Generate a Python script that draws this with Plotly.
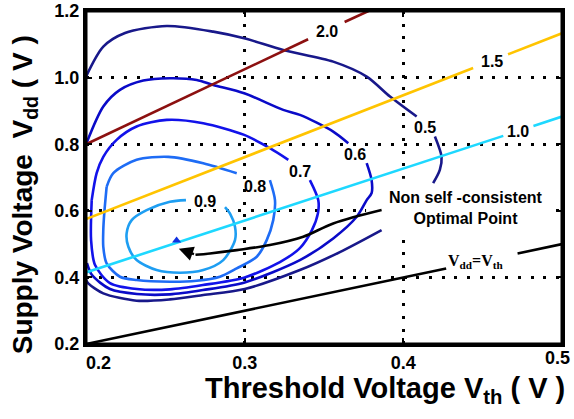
import plotly.graph_objects as go

# ---------------- data ----------------
# iso-contours of normalized metric (None = gap for inline label / hidden part)
c05_x = [0.200, 0.2109, 0.2246, 0.2509, 0.2802, 0.2997, 0.3243, 0.3558, 0.3769, 0.3916, 0.4084, None,
         0.4199, 0.4241, 0.4230, 0.4188, None,
         0.3863, 0.3600, 0.3348, 0.3000, 0.2739, 0.2529, 0.2319, 0.2109, 0.2014, 0.2000]
c05_y = [1.003, 1.093, 1.134, 1.155, 1.138, 1.118, 1.083, 1.048, 1.003, 0.943, 0.883, None,
         0.823, 0.762, 0.723, 0.683, None,
         0.542, 0.476, 0.422, 0.365, 0.347, 0.334, 0.330, 0.352, 0.382, 0.392]

c06_x = [0.2004, 0.2109, 0.2214, 0.2361, 0.2529, 0.2698, 0.2802, 0.2997, 0.3243, 0.3348, 0.3558, 0.3653, None,
         0.3769, 0.3800, 0.3800, 0.3769, 0.3706, 0.3558, 0.3348, 0.3000, 0.2737, 0.2529, 0.2321, 0.2151, 0.2038, 0.2006]
c06_y = [0.804, 0.913, 0.963, 0.991, 0.998, 0.993, 0.978, 0.953, 0.903, 0.888, 0.838, 0.803, None,
         0.743, 0.692, 0.653, 0.632, 0.582, 0.517, 0.452, 0.385, 0.362, 0.349, 0.350, 0.365, 0.407, 0.443]

c07_x = [0.2036, 0.2067, 0.2109, 0.2193, 0.2319, 0.2509, 0.2739, 0.2997, 0.3159, 0.3275, None,
         0.3411, 0.3464, 0.3462, 0.3424, 0.3348, 0.3222, 0.3000, 0.2737, 0.2529, 0.2321, 0.2151, 0.2057, 0.2032, 0.2036]
c07_y = [0.632, 0.713, 0.762, 0.813, 0.853, 0.873, 0.863, 0.828, 0.788, 0.753, None,
         0.692, 0.632, 0.593, 0.542, 0.488, 0.446, 0.400, 0.377, 0.364, 0.365, 0.383, 0.437, 0.512, 0.632]

c08_x = [0.2130, 0.2172, 0.2319, 0.2519, 0.2739, 0.2950, None,
         0.3159, 0.3191, 0.3180, 0.3139, 0.3076, 0.2950, 0.2844, 0.2698, 0.2529, 0.2319, 0.2214, 0.2130, 0.2109,
         0.2109, 0.2115, 0.2130]
c08_y = [0.672, 0.713, 0.753, 0.762, 0.743, 0.713, None,
         0.692, 0.632, 0.572, 0.512, 0.462, 0.427, 0.402, 0.390, 0.387, 0.392, 0.402, 0.442, 0.492,
         0.542, 0.592, 0.672]

c09_x = [0.2876, 0.2907, 0.2939, 0.2939, 0.2865, 0.2739, 0.2592, 0.2445, 0.2319, 0.2267, 0.2256, 0.2288,
         0.2382, 0.2529, 0.2630]
c09_y = [0.611, 0.592, 0.552, 0.512, 0.452, 0.422, 0.414, 0.422, 0.452, 0.492, 0.532, 0.572,
         0.602, 0.627, 0.632]

contour_levels = ["0.5", "0.6", "0.7", "0.8", "0.9"]
contour_label_x = [0.4136, 0.3695, 0.3348, 0.3065, 0.2750]
contour_label_y = [0.849, 0.768, 0.717, 0.672, 0.627]

# straight iso-lines (ratio lines) and Vdd = Vth
l20_x = [0.200, 0.340, None, 0.363, 0.378]
l20_y = [0.800, 1.115, None, 1.167, 1.200]
l15_x = [0.200, 0.444, None, 0.466, 0.500]
l15_y = [0.575, 1.029, None, 1.070, 1.133]
l10_x = [0.200, 0.463, None, 0.482, 0.500]
l10_y = [0.415, 0.825, None, 0.855, 0.883]
vdd_x = [0.200, 0.427, None, 0.472, 0.500]
vdd_y = [0.200, 0.427, None, 0.472, 0.500]

line_labels = ["2.0", "1.5", "1.0"]
line_label_x = [0.3516, 0.4556, 0.4724]
line_label_y = [1.138, 1.048, 0.838]

# non self-consistent optimal point and the arrow pointing to it
opt_x = [0.2571]
opt_y = [0.511]
arrow_x = [0.3863, 0.3558, 0.3369, 0.3159, 0.2950, 0.2781, 0.2690]
arrow_y = [0.6024, 0.562, 0.522, 0.497, 0.482, 0.472, 0.468]
arrow_tip = (0.2585, 0.486)

x_ticks = [0.2, 0.3, 0.4]
x_ticktext = ["&nbsp;&nbsp;&nbsp;&nbsp;&nbsp;0.2", "0.3", "0.4"]
x_last_tick = 0.5
y_ticks = [0.2, 0.4, 0.6, 0.8, 1.0, 1.2]
y_ticktext = ["0.2", "0.4", "0.6", "0.8", "1.0", "1.2"]

# ---------------- figure ----------------
fig = go.Figure()

colors = {"0.5": "#18188A", "0.6": "#0A0AC8", "0.7": "#1212EA", "0.8": "#1E6CF5", "0.9": "#1E9EF2"}
for lvl, xs, ys in zip(contour_levels, [c05_x, c06_x, c07_x, c08_x, c09_x], [c05_y, c06_y, c07_y, c08_y, c09_y]):
    fig.add_trace(go.Scatter(x=xs, y=ys, mode="lines",
                             line=dict(color=colors[lvl], width=2.6, shape="spline", smoothing=0.8),
                             connectgaps=False, hoverinfo="skip"))

for xs, ys, col in [(l20_x, l20_y, "#8C1010"), (l15_x, l15_y, "#FFC400"), (l10_x, l10_y, "#1ED8FF"),
                    (vdd_x, vdd_y, "black")]:
    fig.add_trace(go.Scatter(x=xs, y=ys, mode="lines", line=dict(color=col, width=2.6), hoverinfo="skip"))

fig.add_trace(go.Scatter(x=arrow_x, y=arrow_y, mode="lines", line=dict(color="black", width=2.6, shape="spline"),
                         hoverinfo="skip"))
fig.add_trace(go.Scatter(x=opt_x, y=opt_y, mode="markers",
                         marker=dict(symbol="triangle-up", size=8, color="#1030E0", line=dict(width=0)),
                         hoverinfo="skip"))

# arrow head (plotly orients it from the last shaft point towards the tip)
fig.add_annotation(x=arrow_tip[0], y=arrow_tip[1], ax=arrow_x[-1], ay=arrow_y[-1], xref="x", yref="y",
                   axref="x", ayref="y", text="", showarrow=True, arrowhead=2, arrowsize=1.2, arrowwidth=2.4,
                   arrowcolor="black", standoff=0, startstandoff=0)

# white patch behind the text block (hides the grid there)
fig.add_shape(type="rect", xref="x", yref="y", x0=0.3765, x1=0.4943, y0=0.515, y1=0.696,
              fillcolor="white", line=dict(width=0), layer="between")
# box frame round the plot area
fig.add_shape(type="rect", xref="paper", yref="paper", x0=0, x1=1, y0=0, y1=1,
              line=dict(color="black", width=3), fillcolor="rgba(0,0,0,0)", layer="above")

ann_font = dict(family="Liberation Sans, Arial", size=16, color="black")
for t, x, y in zip(contour_levels + line_labels, contour_label_x + line_label_x, contour_label_y + line_label_y):
    fig.add_annotation(x=x, y=y, text=f"<b>{t}</b>", showarrow=False, font=ann_font)

fig.add_annotation(x=0.4394, y=0.607, text="<b>Non self -consistent<br>Optimal Point</b>", showarrow=False,
                   font=dict(family="Liberation Sans, Arial", size=16, color="black"), align="center")
fig.add_annotation(x=0.4457, y=0.449, text="<b>V<sub>dd</sub>=V<sub>th</sub></b>", showarrow=False,
                   font=dict(family="Liberation Serif, Times New Roman", size=16, color="black"))

# last x tick label, kept inside the page edge
fig.add_annotation(x=x_last_tick, y=0, xref="x", yref="paper", xanchor="right", yanchor="middle",
                   xshift=10, yshift=-14, text=f"<b>{x_last_tick:.1f}</b>", showarrow=False,
                   font=dict(family="Liberation Sans, Arial", size=18, color="black"))

# axis titles
fig.add_annotation(xref="paper", yref="paper", x=0.628, y=-0.138, xanchor="center", yanchor="middle",
                   text="<b>Threshold Voltage V<sub>th</sub> ( V )</b>",
                   showarrow=False, font=dict(family="Liberation Sans, Arial", size=29, color="black"))
fig.add_annotation(xref="paper", yref="paper", x=-0.130, y=0.447, xanchor="center", yanchor="middle",
                   text="<b>Supply Voltage &nbsp;V<sub>dd</sub> ( V )</b>",
                   showarrow=False, textangle=-90, font=dict(family="Liberation Sans, Arial", size=28, color="black"))

axis_common = dict(showline=True, linewidth=3, linecolor="black", mirror="ticks", ticks="inside", ticklen=6,
                   tickwidth=2, tickcolor="black", showgrid=True, gridcolor="black", gridwidth=3,
                   griddash="3px,9.7px", zeroline=False, ticklabeloverflow="allow", automargin=False,
                   tickfont=dict(family="Liberation Sans, Arial", size=18, color="black"))
fig.update_xaxes(range=[0.2, 0.5], tickvals=x_ticks, ticktext=[f"<b>{t}</b>" for t in x_ticktext], **axis_common)
fig.update_yaxes(range=[0.2, 1.2], tickvals=y_ticks, ticktext=[f"<b>{t}</b>" for t in y_ticktext], **axis_common)

fig.update_layout(width=574, height=419, margin=dict(l=86, r=12, t=11, b=75, autoexpand=False),
                  plot_bgcolor="white", paper_bgcolor="white", showlegend=False)

# drop the browser's default 8px body margin so the 574x419 figure fills the page exactly
fig.write_html("out.html", config={"displayModeBar": False},
               post_script="document.body.style.margin='0';document.body.style.overflow='hidden';")
